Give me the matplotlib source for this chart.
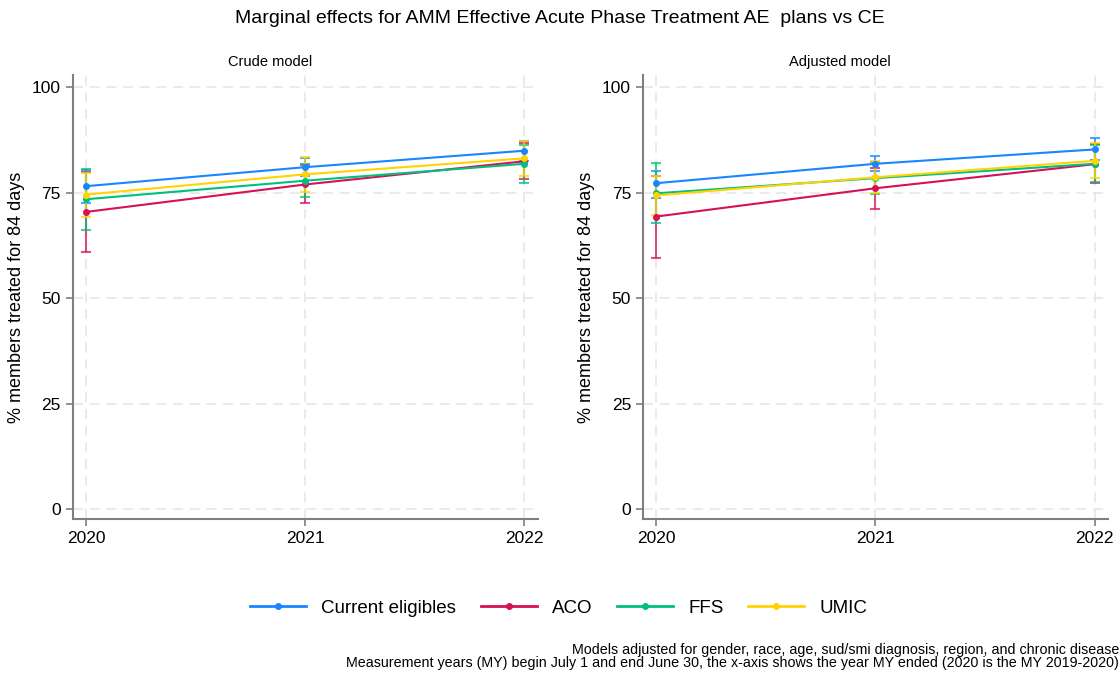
import numpy as np
import matplotlib.pyplot as plt
from matplotlib.lines import Line2D

plt.rcParams['font.family'] = ['Liberation Sans', 'DejaVu Sans']

years = [2020, 2021, 2022]
groups = ['Current eligibles', 'ACO', 'FFS', 'UMIC']
colors = ['#1a85ff', '#d41159', '#00bf7f', '#ffd400']

# point estimates and 95% CIs (lower, upper), crude model
crude_est = {
    'Current eligibles': [76.5, 81.0, 84.9],
    'ACO':               [70.4, 76.9, 82.4],
    'FFS':               [73.4, 77.8, 81.8],
    'UMIC':              [74.5, 79.3, 83.1],
}
crude_lo = {
    'Current eligibles': [72.6, 78.9, 82.5],
    'ACO':               [61.0, 72.4, 78.1],
    'FFS':               [66.2, 73.9, 77.3],
    'UMIC':              [69.3, 75.2, 79.0],
}
crude_hi = {
    'Current eligibles': [80.4, 83.1, 87.3],
    'ACO':               [79.8, 81.4, 86.7],
    'FFS':               [80.6, 81.7, 86.3],
    'UMIC':              [79.7, 83.4, 87.2],
}

# adjusted model
adj_est = {
    'Current eligibles': [77.2, 81.8, 85.2],
    'ACO':               [69.3, 76.0, 81.7],
    'FFS':               [74.8, 78.4, 81.8],
    'UMIC':              [74.3, 78.6, 82.5],
}
adj_lo = {
    'Current eligibles': [73.6, 80.0, 82.6],
    'ACO':               [59.6, 71.2, 77.3],
    'FFS':               [67.7, 74.6, 77.4],
    'UMIC':              [69.6, 74.8, 78.4],
}
adj_hi = {
    'Current eligibles': [80.0, 83.6, 87.8],
    'ACO':               [78.9, 80.7, 86.4],
    'FFS':               [81.9, 82.3, 86.3],
    'UMIC':              [79.0, 82.4, 86.7],
}

fig = plt.figure(figsize=(11.2, 6.77), dpi=100)
ax1 = fig.add_axes([0.065, 0.233, 0.415, 0.656])
ax2 = fig.add_axes([0.574, 0.233, 0.415, 0.656])

def draw_panel(ax, est, lo, hi, title, title_x):
    # CIs first, then the lines on top
    for g, c in zip(groups, colors):
        e = np.array(est[g])
        err = np.vstack([e - np.array(lo[g]), np.array(hi[g]) - e])
        ax.errorbar(years, e, yerr=err, fmt='none', ecolor=c, alpha=0.75,
                    elinewidth=1.5, capsize=3.5, capthick=1.5)
    for g, c in zip(groups, colors):
        ax.plot(years, est[g], color=c, marker='o', markersize=4, linewidth=1.5)
    ax.set_xlim(2020 - 0.06, 2022 + 0.06)
    ax.set_ylim(-2.4, 102.8)
    ax.set_xticks(years)
    ax.set_yticks([0, 25, 50, 75, 100])
    ax.grid(True, linestyle=(0, (6, 4)), color='#e6e6e6', linewidth=1.2)
    ax.set_axisbelow(True)
    ax.spines['top'].set_visible(False)
    ax.spines['right'].set_visible(False)
    ax.spines['left'].set_color('#7f7f7f')
    ax.spines['bottom'].set_color('#7f7f7f')
    ax.spines['left'].set_linewidth(1.5)
    ax.spines['bottom'].set_linewidth(1.5)
    ax.tick_params(axis='both', labelsize=12.5, color='#7f7f7f', width=1.2, length=5)
    ax.set_ylabel('% members treated for 84 days', fontsize=13, labelpad=5)
    fig.text(title_x, 0.908, title, fontsize=10.5, ha='center', va='center')

draw_panel(ax1, crude_est, crude_lo, crude_hi, 'Crude model', 270 / 1120)
draw_panel(ax2, adj_est, adj_lo, adj_hi, 'Adjusted model', 840 / 1120)

fig.suptitle('Marginal effects for AMM Effective Acute Phase Treatment AE  plans vs CE',
             fontsize=14, y=0.973, va='center')

handles = [Line2D([0], [0], color=c, marker='o', markersize=4, linewidth=2) for c in colors]
fig.legend(handles, groups, loc='center', bbox_to_anchor=(0.4987, 0.102), ncol=4,
           frameon=False, fontsize=13.5, handlelength=3.0, handletextpad=0.8,
           columnspacing=1.3)

fig.text(0.999, 0.03, 'Models adjusted for gender, race, age, sud/smi diagnosis, region, and chronic disease\n'
         'Measurement years (MY) begin July 1 and end June 30, the x-axis shows the year MY ended (2020 is the MY 2019-2020)',
         ha='right', va='center', fontsize=10.3, linespacing=0.88)

fig.savefig('out.png', dpi=100)
